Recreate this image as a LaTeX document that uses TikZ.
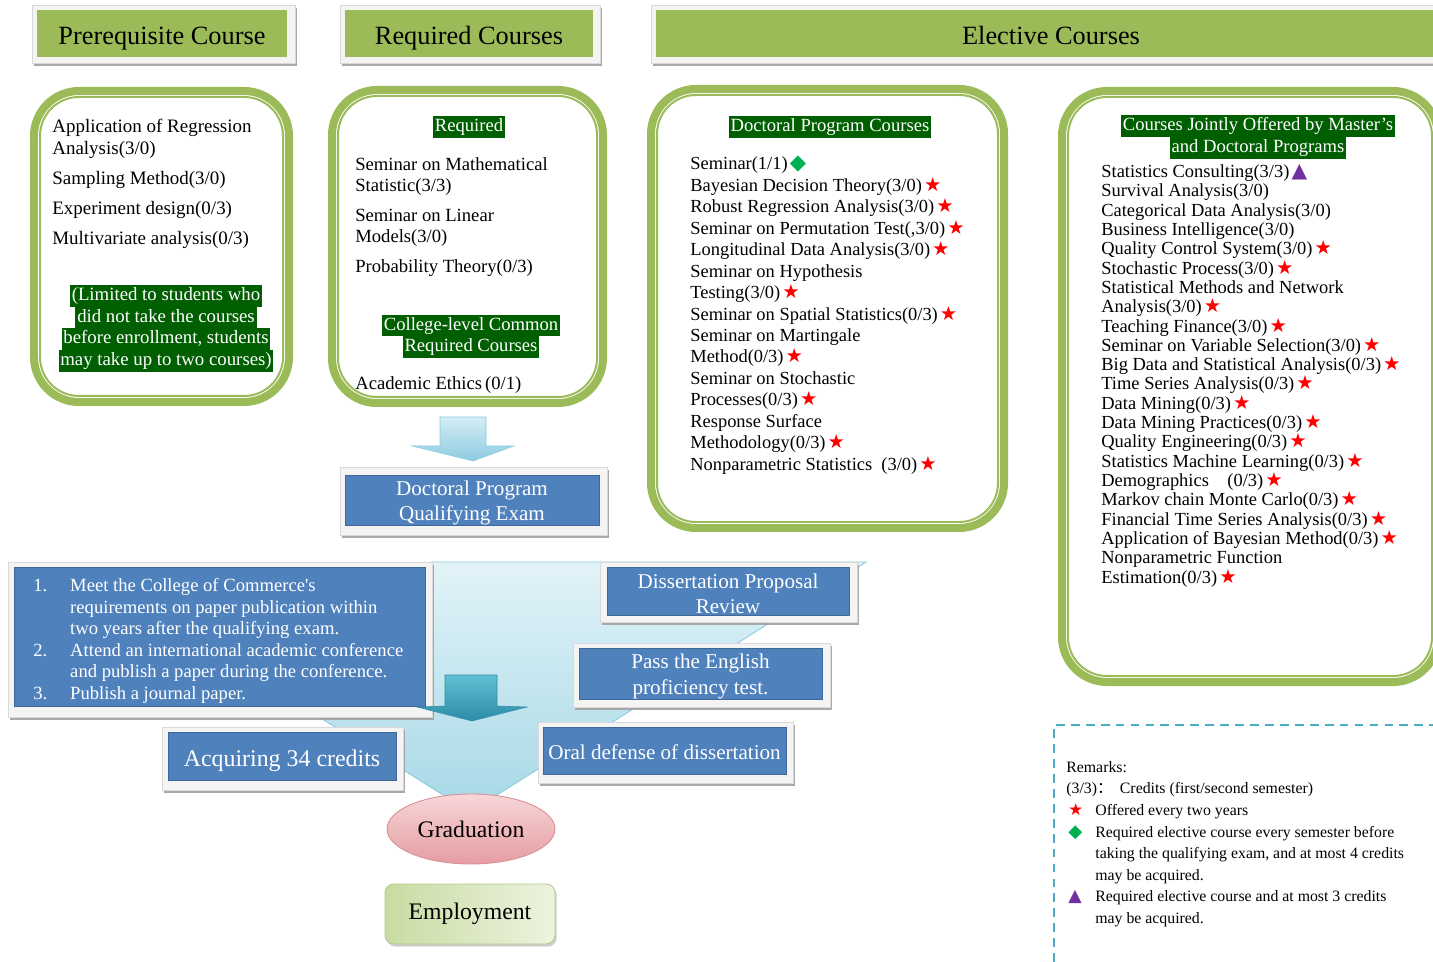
\documentclass[tikz,border=0pt]{standalone}
\usepackage{fontspec}
\usepackage{graphicx}
\setmainfont{Liberation Serif}
\newfontfamily\dejavu{DejaVu Sans}
\newfontfamily\cjkfont{Noto Sans CJK SC}
\usetikzlibrary{shapes.geometric,shadows}

\definecolor{hdrgreen}{HTML}{9BBB59}
\definecolor{boxgreen}{HTML}{9BBB59}
\definecolor{hlgreen}{HTML}{005F00}
\definecolor{boxblue}{HTML}{4F81BD}
\definecolor{framegray}{HTML}{F4F4F4}
\definecolor{framedraw}{HTML}{D9D9D9}
\definecolor{shadowgray}{HTML}{A0A0A0}
\definecolor{starred}{HTML}{FF0000}
\definecolor{diagreen}{HTML}{00B050}
\definecolor{tripurple}{HTML}{7030A0}
\definecolor{funneltop}{HTML}{E2F3F8}
\definecolor{funnelbot}{HTML}{A6D8E6}
\definecolor{funneldraw}{HTML}{8CCBDC}
\definecolor{arrowtop}{HTML}{D3EDF5}
\definecolor{arrowbot}{HTML}{8DCBE0}
\definecolor{tealtop}{HTML}{62C0D3}
\definecolor{tealbot}{HTML}{2C8CA6}
\definecolor{pinktop}{HTML}{F8D6D8}
\definecolor{pinkbot}{HTML}{E59DA2}
\definecolor{pinkdraw}{HTML}{D89096}
\definecolor{empleft}{HTML}{C8DCA2}
\definecolor{empright}{HTML}{EDF3E0}
\definecolor{empdraw}{HTML}{B0C98A}
\definecolor{remdash}{HTML}{4BACC6}

\setlength{\fboxsep}{0pt}
\newcommand{\hl}[1]{\colorbox{hlgreen}{\kern1pt\strut #1\kern1pt}}
\newcommand{\rstar}{\kern1.2pt{\dejavu\textcolor{starred}{\scalebox{1.05}{★}}}}
\newcommand{\gdia}{\kern1.2pt{\dejavu\textcolor{diagreen}{\scalebox{1.15}{◆}}}}
\newcommand{\ptri}{\kern1.2pt{\dejavu\textcolor{tripurple}{\scalebox{1.1}{▲}}}}
\newcommand{\tstrut}{\rule{0pt}{11.5pt}}

\tikzset{
  shframe/.style={fill=framegray, draw=framedraw, line width=0.4pt, inner sep=0pt,
    drop shadow={shadow xshift=1pt, shadow yshift=-1.5pt, fill=shadowgray, opacity=0.9}},
  hdr/.style={fill=hdrgreen, inner sep=0pt, text height=13pt, text depth=0pt,
    font=\fontsize{15}{18}\selectfont},
  bluebox/.style={fill=boxblue, draw=boxblue!80!black, line width=0.3pt, inner sep=0pt,
    text=white, align=center, font=\fontsize{12}{14.2}\selectfont},
  gbox/.style={draw=boxgreen, line width=0.16cm, rounded corners=0.9cm},
  gin/.style={draw=boxgreen, line width=0.04cm, rounded corners=0.78cm},
  courses/.style={anchor=north west, inner sep=0pt, align=left},
  hlnode/.style={inner sep=0pt, align=center, text=white},
}

\begin{document}
\begin{tikzpicture}[x=0.02cm, y=-0.02cm]
                \useasboundingbox (0,0) rectangle (1433,962);
                \clip (0,0) rectangle (1433,962);
% заголовки
                \node[shframe, minimum width=5.26cm, minimum height=1.16cm] (prefr) at (163.5,34) {};
                \node[hdr, minimum width=5cm, minimum height=0.94cm] (pre) at (162,33.5) {Prerequisite Course};
                \node[shframe, minimum width=5.2cm, minimum height=1.16cm] (reqfr) at (470,34) {};
                \node[hdr, minimum width=4.96cm, minimum height=0.94cm] (req) at (469,33.5) {Required Courses};
                \node[shframe, minimum width=16cm, minimum height=1.16cm] (elefr) at (1051,34) {};
                \node[hdr, minimum width=15.8cm, minimum height=0.94cm] (ele) at (1051,33.5) {Elective Courses};

% зелёные рамки
                \draw[gbox] (34,91) rectangle (289,402);
                \draw[gin] (40,97) rectangle (283,396);
                \draw[gbox] (332,90) rectangle (603,403);
                \draw[gin] (338,96) rectangle (597,397);
                \draw[gbox] (651,89) rectangle (1004,528);
                \draw[gin] (657,95) rectangle (998,522);
                \draw[gbox] (1062,91) rectangle (1438,682);
                \draw[gin] (1068,97) rectangle (1432,676);

% предварительные курсы
                \node[courses, font=\fontsize{10.8}{12.5}\selectfont] (prelist) at (52,119)
                    {Application of Regression\\Analysis(3/0)\\[4.3pt]Sampling Method(3/0)\\[4.6pt]%
                     Experiment design(0/3)\\[4.6pt]Multivariate analysis(0/3)};
                \node[hlnode, font=\fontsize{10.7}{12.3}\selectfont] (prenote) at (166,328.5)
                    {\hl{(Limited to students who}\\\hl{did not take the courses}\\%
                     \hl{before enrollment, students}\\\hl{may take up to two courses)}};

% обязательные курсы
                \node[hlnode, font=\fontsize{10.6}{12.3}\selectfont] (reqtag) at (469,127) {\hl{Required}};
                \node[courses, font=\fontsize{10.6}{12}\selectfont] (reqlist) at (355,157)
                    {Seminar on Mathematical\\Statistic(3/3)\\[5pt]Seminar on Linear\\Models(3/0)\\[5pt]%
                     Probability Theory(0/3)};
                \node[hlnode, font=\fontsize{10.6}{12.3}\selectfont] (coltag) at (471,336.5)
                    {\hl{College-level Common}\\\hl{Required Courses}};
                \node[anchor=west, inner sep=0pt, font=\fontsize{10.6}{12}\selectfont] (ethics) at (355,385)
                    {Academic Ethics\,(0/1)};

% докторские курсы
                \node[hlnode, font=\fontsize{10.6}{12.3}\selectfont] (doctag) at (830,127) {\hl{Doctoral Program Courses}};
                \node[courses, font=\fontsize{10.5}{12.2}\selectfont] (doclist) at (690,156)
                    {Seminar(1/1)\gdia\\
                     Bayesian Decision Theory(3/0)\rstar\\
                     Robust Regression Analysis(3/0)\rstar\\
                     Seminar on Permutation Test(,3/0)\rstar\\
                     Longitudinal Data Analysis(3/0)\rstar\\
                     Seminar on Hypothesis\\
                     Testing(3/0)\rstar\\
                     Seminar on Spatial Statistics(0/3)\rstar\\
                     Seminar on Martingale\\
                     Method(0/3)\rstar\\
                     Seminar on Stochastic\\
                     Processes(0/3)\rstar\\
                     Response Surface\\
                     Methodology(0/3)\rstar\\
                     Nonparametric Statistics\ \ (3/0)\rstar};

% совместные курсы
                \node[hlnode, font=\fontsize{10.6}{12.5}\selectfont] (jointtag) at (1258,137)
                    {\hl{Courses Jointly Offered by Master’s}\\\hl{and Doctoral Programs}};
                \node[courses, font=\fontsize{10.5}{11}\selectfont] (jointlist) at (1101,164)
                    {Statistics Consulting(3/3)\ptri\\
                     Survival Analysis(3/0)\\
                     Categorical Data Analysis(3/0)\\
                     Business Intelligence(3/0)\\
                     Quality Control System(3/0)\rstar\\
                     Stochastic Process(3/0)\rstar\\
                     Statistical Methods and Network\\
                     Analysis(3/0)\rstar\\
                     Teaching Finance(3/0)\rstar\\
                     Seminar on Variable Selection(3/0)\rstar\\
                     Big Data and Statistical Analysis(0/3)\rstar\\
                     Time Series Analysis(0/3)\rstar\\
                     Data Mining(0/3)\rstar\\
                     Data Mining Practices(0/3)\rstar\\
                     Quality Engineering(0/3)\rstar\\
                     Statistics Machine Learning(0/3)\rstar\\
                     Demographics\hspace{1em}(0/3)\rstar\\
                     Markov chain Monte Carlo(0/3)\rstar\\
                     Financial Time Series Analysis(0/3)\rstar\\
                     Application of Bayesian Method(0/3)\rstar\\
                     Nonparametric Function\\
                     Estimation(0/3)\rstar};

% стрелка к экзамену
                \shadedraw[top color=arrowtop, bottom color=arrowbot, draw=arrowbot, line width=0.3pt]
                    (440,417) -- (486,417) -- (486,446) -- (514,446) -- (473,461) -- (412,446) -- (440,446) -- cycle;
                \node[shframe, minimum width=5.34cm, minimum height=1.36cm] (examfr) at (473.5,501) {};
                \node[bluebox, minimum width=5.08cm, minimum height=1cm] (exam) at (472,500)
                    {\tstrut Doctoral Program\\Qualifying Exam};

% воронка
                \shadedraw[top color=funneltop, bottom color=funnelbot, draw=funneldraw, line width=0.5pt]
                    (432,562) -- (866,562) -- (470,812) -- (300,705) -- (432,705) -- cycle;

% требования
                \node[shframe, minimum width=8.48cm, minimum height=3.1cm] (reqsfr) at (220,639.5) {};
                \node[fill=boxblue, draw=boxblue!80!black, line width=0.3pt,
                    minimum width=8.22cm, minimum height=2.78cm] (reqs) at (219.5,636.5) {};
                \node[courses, text=white, font=\fontsize{10.6}{12.3}\selectfont] (reqstext) at (33,578)
                    {\makebox[21pt][l]{1.}Meet the College of Commerce\textquotesingle s\\
                     \hspace*{21pt}requirements on paper publication within\\
                     \hspace*{21pt}two years after the qualifying exam.\\
                     \makebox[21pt][l]{2.}Attend an international academic conference\\
                     \hspace*{21pt}and publish a paper during the conference.\\
                     \makebox[21pt][l]{3.}Publish a journal paper.};

                \node[shframe, minimum width=5.14cm, minimum height=1.2cm] (propfr) at (728.5,592) {};
                \node[bluebox, minimum width=4.84cm, minimum height=0.96cm] (prop) at (728,591)
                    {\tstrut Dissertation Proposal\\Review};
                \node[shframe, minimum width=5.14cm, minimum height=1.28cm] (engfr) at (701.5,675) {};
                \node[bluebox, minimum width=4.86cm, minimum height=0.98cm, font=\fontsize{12}{14.8}\selectfont] (eng) at (700.5,673.5)
                    {\tstrut Pass the English\\proficiency test.};
                \node[shframe, minimum width=5.1cm, minimum height=1.22cm] (oralfr) at (665.5,752.5) {};
                \node[bluebox, minimum width=4.86cm, minimum height=0.94cm] (oral) at (664.5,750.5)
                    {\rule{0pt}{10pt}Oral defense of dissertation};
                \node[shframe, minimum width=4.82cm, minimum height=1.26cm] (credfr) at (282.5,758.5) {};
                \node[bluebox, minimum width=4.56cm, minimum height=0.96cm, font=\fontsize{13.6}{16}\selectfont] (cred) at (282,756)
                    {\rule{0pt}{15pt}Acquiring 34 credits};

% малая стрелка
                \shadedraw[top color=tealtop, bottom color=tealbot, draw=tealbot, line width=0.3pt]
                    (445,675) -- (497,675) -- (497,706) -- (527,707) -- (472,721) -- (417,707) -- (445,706) -- cycle;

% выпуск
                \node[ellipse, top color=pinktop, bottom color=pinkbot, draw=pinkdraw, line width=0.5pt,
                    minimum width=3.36cm, minimum height=1.4cm, font=\fontsize{13.5}{16}\selectfont] (grad) at (471,829) {Graduation};
                \node[rounded corners=5pt, left color=empleft, right color=empright, draw=empdraw, line width=0.5pt,
                    minimum width=3.4cm, minimum height=1.2cm, font=\fontsize{13.5}{16}\selectfont,
                    drop shadow={shadow xshift=1pt, shadow yshift=-1.5pt, fill=shadowgray, opacity=0.5}] (job) at (470,914) {Employment};

% примечания
                \draw[remdash, line width=1.3pt, dash pattern=on 5pt off 3.5pt] (1054,962) -- (1054,725) -- (1433,725);
                \node[courses, font=\fontsize{9}{12.3}\selectfont] (remarks) at (1066,761)
                    {Remarks:\\
                     (3/3){\cjkfont ：}\hspace{4pt}Credits (first/second semester)\\
                     \makebox[16.5pt][l]{\rstar}Offered every two years\\
                     \makebox[16.5pt][l]{\gdia}Required elective course every semester before\\
                     \hspace*{16.5pt}taking the qualifying exam, and at most 4 credits\\
                     \hspace*{16.5pt}may be acquired.\\
                     \makebox[16.5pt][l]{\ptri}Required elective course and at most 3 credits\\
                     \hspace*{16.5pt}may be acquired.};
\end{tikzpicture}
\end{document}
